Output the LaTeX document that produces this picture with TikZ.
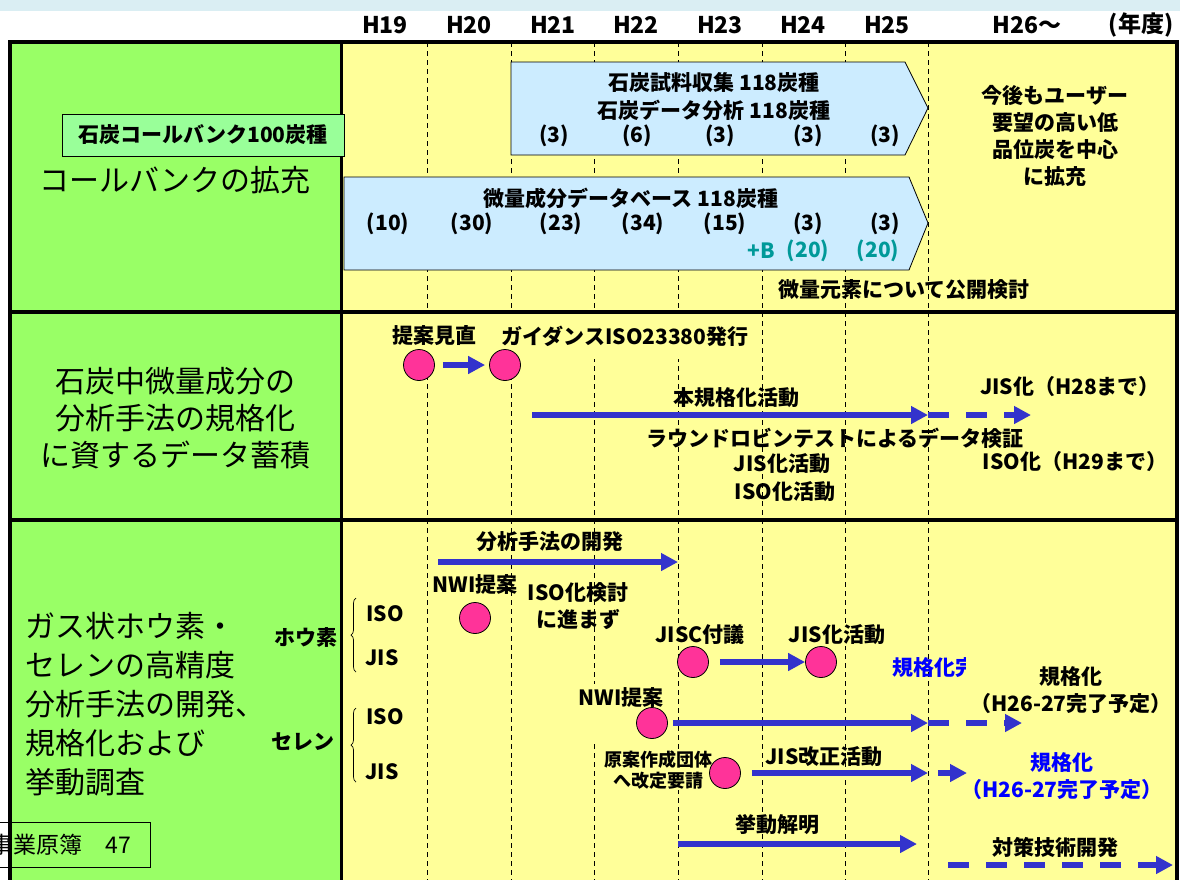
\documentclass[tikz,border=0pt]{standalone}
\usepackage{fontspec}
\setmainfont{Noto Sans CJK JP}
\usepackage{tikz}
\definecolor{cbgreen}{HTML}{99FF66}
\definecolor{cbyellow}{HTML}{FFFF99}
\definecolor{cbsky}{HTML}{CCECFF}
\definecolor{cbmint}{HTML}{99FF99}
\definecolor{cbpink}{HTML}{FF3399}
\definecolor{cbblue}{HTML}{3333CC}
\definecolor{cbteal}{HTML}{009999}
\definecolor{cbink}{HTML}{0000FF}
\definecolor{cbtop}{HTML}{DAEEF3}
\usetikzlibrary{arrows.meta, positioning, decorations.pathreplacing}
\tikzset{
    cbtext/.style={font=\bfseries\fontsize{21}{27}\selectfont, inner sep=1pt, align=center},
    cbsmall/.style={font=\bfseries\fontsize{18}{21}\selectfont, inner sep=1pt, align=center},
    cbbig/.style={font=\fontsize{30}{37}\selectfont, inner sep=0pt, align=center},
    cbyear/.style={font=\bfseries\fontsize{23}{26}\selectfont, inner sep=0pt},
    cbcover/.style={fill=cbyellow},
    cbdot/.style={circle, draw, fill=cbpink, minimum size=31pt, inner sep=0pt, line width=0.8pt},
    cbarrow/.style={-{Triangle[length=17pt, width=17pt]}, line width=5.5pt, draw=cbblue},
    cbdash/.style={cbarrow, dash pattern=on 21pt off 17pt},
    cbbar/.style={draw, fill=cbsky, line width=0.8pt},
    cbgrid/.style={line width=0.8pt, dash pattern=on 5pt off 4pt},
    cbframe/.style={line width=4pt},
    cbrule/.style={line width=3.5pt},
    cbbrace/.style={decorate, decoration={brace, amplitude=5pt}, line width=0.7pt}
}

\begin{document}
\begin{tikzpicture}[x=1pt, y=-1pt]
  \useasboundingbox (0,0) rectangle (1180,879);
  \clip (0,0) rectangle (1180,879);
  % background
  \fill[cbtop] (0,0) rectangle (1180,11);
  \fill[cbgreen] (10,42) rectangle (341,890);
  \fill[cbyellow] (341,42) rectangle (1177,890);
  \foreach \xx in {427,511,594,678,762,845,928}
    \draw[cbgrid] (\xx,42) -- (\xx,890);

  % years
  \foreach \yr/\xx in {H19/385, H20/469, H21/553, H22/636, H23/720, H24/803, H25/887}
    \node[cbyear] (\yr) at (\xx,25) {\yr};
  \node[cbyear] (h26)   at (1027,25) {H26〜};
  \node[cbyear] (nendo) at (1141,25) {(年度)};

  % row 1
  \draw[cbbar] (511,62) -- (905,62) -- (928,108) -- (905,155) -- (511,155) -- cycle;
  \draw[cbbar] (344,177) -- (909,177) -- (928,223) -- (909,270) -- (344,270) -- cycle;
  \node[cbbig] (bank) at (175,180) {コールバンクの拡充};
  \node[cbtext] (samp) at (714,83)  {石炭試料収集 118炭種};
  \node[cbtext] (anal) at (714,110) {石炭データ分析 118炭種};
  \foreach \xx/\nn in {554/3, 637/6, 720/3, 808/3, 885/3}
    \node[cbtext] (u\xx) at (\xx,136) {(\nn)};
  \node[cbtext] (trace) at (631,198) {微量成分データベース 118炭種};
  \foreach \xx/\nn in {388/10, 472/30, 561/23, 643/34, 725/15, 808/3, 885/3}
    \node[cbtext] (l\xx) at (\xx,224) {(\nn)};
  \node[cbtext, text=cbteal] (plusb) at (761,251) {+B};
  \node[cbtext, text=cbteal] (b24)   at (808,251) {(20)};
  \node[cbtext, text=cbteal] (b25)   at (878,251) {(20)};
  \node[cbtext] (open)   at (904,290) {微量元素について公開検討};
  \node[cbtext] (future) at (1055,136) {今後もユーザー\\要望の高い低\\品位炭を中心\\に拡充};

  % row 2
  \node[cbbig] (std) at (175,418) {石炭中微量成分の\\分析手法の規格化\\に資するデータ蓄積};
  \node[cbtext, cbcover, minimum height=46pt] (rev)  at (434,336) {提案見直};
  \node[cbtext, cbcover, minimum height=46pt, minimum width=250pt] (guide) at (625,336) {ガイダンスISO23380発行};
  \node[cbdot] (p1) at (419,365) {};
  \node[cbdot] (p2) at (505,365) {};
  \draw[cbarrow, shorten <=8pt, shorten >=4pt] (p1) -- (p2);
  \node[cbtext] (main)  at (736,398) {本規格化活動};
  \coordinate (m0) at (532,415);
  \coordinate (m1) at (928,415);
  \coordinate (m2) at (1031,415);
  \draw[cbarrow] (m0) -- (m1);
  \draw[cbdash]  (m1) -- (m2);
  \node[cbtext] (rr)    at (835,438) {ラウンドロビンテストによるデータ検証};
  \node[cbtext] (jisa)  at (782,464) {JIS化活動};
  \node[cbtext] (isoa)  at (785,492) {ISO化活動};
  \node[cbtext] (jis28) at (1070,387) {JIS化（H28まで）};
  \node[cbtext] (iso29) at (1075,462) {ISO化（H29まで）};

  % row 3
  \node[cbbig, align=left, anchor=west, font=\fontsize{30}{39}\selectfont] (gas) at (25,704)
    {ガス状ホウ素・\\セレンの高精度\\分析手法の開発、\\規格化および\\挙動調査};
  \node[cbtext] (dev) at (550,542) {分析手法の開発};
  \coordinate (d0) at (438,562);
  \coordinate (d1) at (678,562);
  \draw[cbarrow] (d0) -- (d1);
  \node[cbtext] (nwi1) at (475,585) {NWI提案};
  \node[cbdot]  (q1)   at (475,618) {};
  \node[cbtext] (nogo) at (578,606) {ISO化検討\\に進まず};
  \node[cbtext] (boron) at (306,637) {ホウ素};
  \node[cbtext] (biso)  at (385,614) {ISO};
  \node[cbtext] (bjis)  at (382,658) {JIS};
  \draw[cbbrace] (356,672) -- (356,598);
  \node[cbtext] (selen) at (303,742) {セレン};
  \node[cbtext] (siso)  at (385,717) {ISO};
  \node[cbtext] (sjis)  at (382,772) {JIS};
  \draw[cbbrace] (356,782) -- (356,708);
  \node[cbtext, cbcover] (jisc) at (700,635) {JISC付議};
  \node[cbtext, cbcover] (jisb) at (837,635) {JIS化活動};
  \node[cbdot] (q2) at (693,662) {};
  \node[cbdot] (q3) at (821,662) {};
  \draw[cbarrow, shorten <=11pt] (q2) -- (q3);
  \begin{scope}
    \clip (880,645) rectangle (965,692);
    \node[cbtext, text=cbink, anchor=west] (done) at (891,668) {規格化完了};
  \end{scope}
  \node[cbtext, minimum width=212pt, inner ysep=0pt] (plan1) at (1071,690)
    {規格化\\（H26-27完了予定）};
  \node[cbtext, cbcover, minimum width=100pt, minimum height=56pt] (nwi2) at (625,712) {};
  \node[cbtext] (nwi2t) at (621,698) {NWI提案};
  \node[cbsmall, cbcover] (req) at (658,770) {原案作成団体\\へ改定要請};
  \node[cbdot] (q4) at (652,723) {};
  \coordinate (s1) at (928,723);
  \coordinate (s2) at (1022,723);
  \draw[cbarrow, shorten <=5pt] (q4) -- (s1);
  \draw[cbdash] (s1) -- (s2);
  \node[cbdot] (q5) at (725,773) {};
  \node[cbtext] (rev2) at (824,757) {JIS改正活動};
  \coordinate (r1) at (928,773);
  \coordinate (r2) at (938,773);
  \coordinate (r3) at (967,773);
  \draw[cbarrow, shorten <=11pt] (q5) -- (r1);
  \draw[cbarrow] (r2) -- (r3);
  \node[cbtext, text=cbink] (plan2) at (1062,776) {規格化\\（H26-27完了予定）};
  \node[cbtext] (beh) at (777,825) {挙動解明};
  \coordinate (e0) at (678,844);
  \coordinate (e1) at (917,844);
  \draw[cbarrow] (e0) -- (e1);
  \node[cbtext] (meas) at (1055,847) {対策技術開発};
  \coordinate (c0) at (948,865);
  \coordinate (c1) at (1173,865);
  \draw[cbdash] (c0) -- (c1);

  % frame
  \draw[cbframe] (10,890) -- (10,42) -- (1177,42) -- (1177,890);
  \draw[cbrule] (10,312) -- (1177,312);
  \draw[cbrule] (10,520) -- (1177,520);
  \draw[line width=3pt] (341,42) -- (341,890);
  \node[cbtext, draw, fill=cbmint, line width=0.8pt, minimum width=282pt, minimum height=42pt]
    (cb100) at (203,135) {石炭コールバンク100炭種};
  \node[draw, line width=0.8pt, font=\fontsize{23}{26}\selectfont, inner xsep=5pt,
    minimum height=45pt, anchor=west] (page) at (-15,845) {事業原簿　47\hspace*{14pt}};
\end{tikzpicture}
\end{document}
